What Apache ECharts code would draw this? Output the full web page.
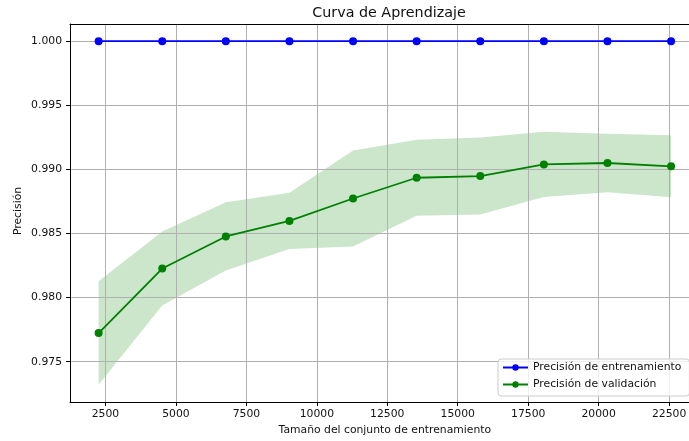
<!DOCTYPE html>
<html>
<head>
<meta charset="utf-8">
<script src="https://cdn.jsdelivr.net/npm/echarts@6/dist/echarts.min.js"></script>
<style>
  html, body { margin: 0; padding: 0; background: #fff; }
  #chart { width: 689px; height: 441px; }
</style>
</head>
<body>
<div id="chart"></div>
<script>
// Learning curve: training-set sizes and mean / std accuracy per size
const trainSizes = [2257, 4514, 6771, 9028, 11285, 13542, 15799, 18056, 20313, 22570];
const trainMean  = [1.0, 1.0, 1.0, 1.0, 1.0, 1.0, 1.0, 1.0, 1.0, 1.0];
const valMean    = [0.97724, 0.98227, 0.98477, 0.98598, 0.98773, 0.98935, 0.98948, 0.99039, 0.99050, 0.99024];
const valStd     = [0.00404, 0.00289, 0.00266, 0.00219, 0.00375, 0.00296, 0.00300, 0.00255, 0.00229, 0.00242];

const xTicks = [2500, 5000, 7500, 10000, 12500, 15000, 17500, 20000, 22500];
const yTicks = [0.975, 0.980, 0.985, 0.990, 0.995, 1.000];

const titleText  = 'Curva de Aprendizaje';
const xLabelText = 'Tamaño del conjunto de entrenamiento';
const yLabelText = 'Precisión';
const trainName  = 'Precisión de entrenamiento';
const valName    = 'Precisión de validación';

// band limits (mean ± std)
const valLow  = valMean.map((m, i) => m - valStd[i]);
const valHigh = valMean.map((m, i) => m + valStd[i]);

// axis limits with a 5% margin around the data
function padded(lo, hi) { const m = (hi - lo) * 0.05; return [lo - m, hi + m]; }
const [xMin, xMax] = padded(Math.min(...trainSizes), Math.max(...trainSizes));
const [yMin, yMax] = padded(Math.min(...valLow, ...trainMean), Math.max(...valHigh, ...trainMean));

const FONT = 'DejaVu Sans';
const TXT = '#111111';

const chart = echarts.init(document.getElementById('chart'), null, { renderer: 'canvas' });

const bandData = trainSizes.map((x, i) => [x, valLow[i], valHigh[i]]);

chart.setOption({
  animation: false,
  backgroundColor: '#fff',
  textStyle: { fontFamily: FONT },
  graphic: [{
    type: 'text',
    x: 389, y: 13,
    style: {
      text: titleText, fontFamily: FONT, fontSize: 14.3, fill: TXT,
      align: 'center', verticalAlign: 'middle'
    }
  }, {
    // vertical y-axis title
    type: 'text',
    x: 18, y: 211,
    rotation: Math.PI / 2,
    style: {
      text: yLabelText, fontFamily: FONT, fontSize: 10.8, fill: TXT,
      align: 'center', verticalAlign: 'middle'
    }
  }],
  grid: {
    left: 70, top: 24, width: 629.7, height: 378,
    outerBoundsMode: 'none',
    containLabel: false,
    show: false
  },
  legend: {
    orient: 'vertical',
    left: 498, top: 359,
    padding: [2, 8, 5, 4],
    itemGap: 4,
    itemWidth: 25, itemHeight: 8,
    backgroundColor: 'rgba(255,255,255,0.8)',
    borderColor: '#cccccc', borderWidth: 1, borderRadius: 3,
    textStyle: { fontFamily: FONT, fontSize: 10.8, color: TXT, lineHeight: 13 },
    data: [trainName, valName]
  },
  xAxis: [{
    type: 'value',
    min: xMin, max: xMax,
    name: xLabelText,
    nameLocation: 'middle',
    nameGap: 22,
    nameTextStyle: { fontFamily: FONT, fontSize: 10.8, color: TXT },
    axisLine: { show: true, lineStyle: { color: '#000', width: 1 } },
    axisTick: { show: true, length: 4, lineStyle: { color: '#000' }, customValues: xTicks },
    axisLabel: { customValues: xTicks, margin: 7, fontFamily: FONT, fontSize: 10.8, color: TXT,
                 formatter: v => String(Math.round(v)) },
    splitLine: { show: true, lineStyle: { color: '#b0b0b0', width: 1 } }
  }, {
    // top spine only
    type: 'value',
    position: 'top',
    min: xMin, max: xMax,
    axisLine: { show: true, lineStyle: { color: '#000', width: 1 } },
    axisTick: { show: false },
    axisLabel: { show: false },
    splitLine: { show: false }
  }],
  yAxis: {
    type: 'value',
    min: yMin, max: yMax,
    axisLine: { show: true, lineStyle: { color: '#000', width: 1 } },
    axisTick: { show: true, length: 4, lineStyle: { color: '#000' }, customValues: yTicks },
    axisLabel: { customValues: yTicks, margin: 8, fontFamily: FONT, fontSize: 10.8, color: TXT,
                 formatter: v => v.toFixed(3) },
    splitLine: { show: true, lineStyle: { color: '#b0b0b0', width: 1 } }
  },
  series: [
    {
      // shaded ±1 std band of the validation score
      type: 'custom',
      z: -1,
      silent: true,
      data: bandData,
      encode: { x: 0, y: [1, 2] },
      renderItem: function (params, api) {
        if (params.dataIndex !== 0) return null;
        const upper = bandData.map(d => api.coord([d[0], d[2]]));
        const lower = bandData.map(d => api.coord([d[0], d[1]])).reverse();
        return {
          type: 'polygon',
          shape: { points: upper.concat(lower) },
          style: { fill: 'rgba(0,128,0,0.2)', stroke: 'none' }
        };
      }
    },
    {
      name: trainName,
      type: 'line',
      data: trainSizes.map((x, i) => [x, trainMean[i]]),
      symbol: 'circle', symbolSize: 8,
      lineStyle: { color: '#0000ff', width: 1.8 },
      itemStyle: { color: '#0000ff' },
      z: 3
    },
    {
      name: valName,
      type: 'line',
      data: trainSizes.map((x, i) => [x, valMean[i]]),
      symbol: 'circle', symbolSize: 8,
      lineStyle: { color: '#008000', width: 1.8 },
      itemStyle: { color: '#008000' },
      z: 4
    }
  ]
});
</script>
</body>
</html>
